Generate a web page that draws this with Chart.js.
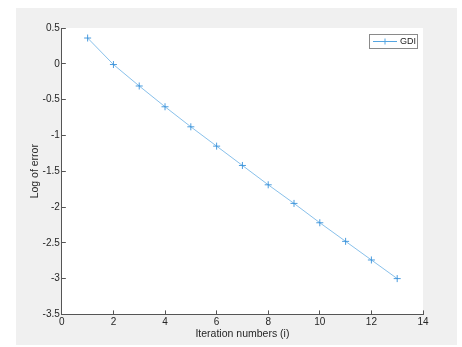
<!DOCTYPE html>
<html>
<head>
<meta charset="utf-8">
<script src="https://cdn.jsdelivr.net/npm/chart.js@4/dist/chart.umd.min.js"></script>
<style>
  html, body { margin: 0; padding: 0; background: #fff; }
  #wrap { width: 462px; height: 347px; position: relative; }
</style>
</head>
<body>
<div id="wrap"><canvas id="chart"></canvas></div>
<script>
const iterations = [1, 2, 3, 4, 5, 6, 7, 8, 9, 10, 11, 12, 13];
const logError = [0.36, -0.01, -0.31, -0.60, -0.88, -1.15, -1.42, -1.69, -1.95, -2.22, -2.48, -2.74, -3.00];
const seriesName = 'GDI';
const xTitle = 'Iteration numbers (i)';
const yTitle = 'Log of error';

const lineColor = 'rgb(85,165,225)';
const fontFamily = 'Helvetica, "Liberation Sans", Arial, sans-serif';

// matlab prints -1 not -1.0
const plainTick = v => String(+Number(v).toFixed(2));

// gray figure background + white axes area, like a matlab figure
const figureBg = {
  id: 'figureBg',
  beforeDraw(chart) {
    const ctx = chart.ctx;
    const a = chart.chartArea;
    ctx.save();
    ctx.fillStyle = '#f0f0f0';
    ctx.fillRect(16, 8, 441, 337);
    ctx.fillStyle = '#ffffff';
    ctx.fillRect(a.left, a.top, a.right - a.left, a.bottom - a.top);
    ctx.restore();
  }
};

// matlab-like legend box: line sample with marker, then the name
const boxLegend = {
  id: 'boxLegend',
  afterDraw(chart) {
    const ctx = chart.ctx;
    const a = chart.chartArea;
    const ds = chart.data.datasets[0];
    const w = 48, h = 14;
    const x = a.right - 6 - w, y = a.top + 6;
    ctx.save();
    ctx.fillStyle = '#fff';
    ctx.fillRect(x, y, w, h);
    ctx.strokeStyle = '#8a8a8a';
    ctx.lineWidth = 1;
    ctx.strokeRect(x + 0.5, y + 0.5, w, h);
    const my = y + h / 2 + 0.5;
    ctx.strokeStyle = ds.borderColor;
    ctx.beginPath();
    ctx.moveTo(x + 4, my);
    ctx.lineTo(x + 28, my);
    ctx.moveTo(x + 16, my - 3);
    ctx.lineTo(x + 16, my + 3);
    ctx.stroke();
    ctx.fillStyle = '#222';
    ctx.font = '9px ' + fontFamily;
    ctx.textBaseline = 'middle';
    ctx.fillText(ds.label, x + 31, my);
    ctx.restore();
  }
};

new Chart(document.getElementById('chart'), {
  type: 'line',
  data: {
    datasets: [{
      label: seriesName,
      data: iterations.map((x, i) => ({ x: x, y: logError[i] })),
      borderColor: lineColor,
      backgroundColor: lineColor,
      borderWidth: 0.7,
      pointStyle: 'cross',
      pointRadius: 3.5,
      pointBorderWidth: 0.9,
      pointBorderColor: 'rgb(55,145,218)',
      tension: 0
    }]
  },
  options: {
    responsive: true,
    maintainAspectRatio: false,
    animation: false,
    layout: { padding: { left: 20, right: 39, top: 28, bottom: 0 } },
    plugins: {
      legend: { display: false },
      tooltip: { enabled: false }
    },
    scales: {
      x: {
        type: 'linear',
        min: 0,
        max: 14,
        ticks: { stepSize: 2, color: '#262626', font: { size: 10, family: fontFamily }, padding: 6, callback: plainTick },
        grid: { drawOnChartArea: false, tickLength: -4, color: '#555' },
        border: { color: '#555', width: 1 },
        title: { display: true, text: xTitle, color: '#262626', font: { size: 10.5, family: fontFamily }, padding: { top: -7, bottom: 7 } }
      },
      y: {
        min: -3.5,
        max: 0.5,
        ticks: { stepSize: 0.5, color: '#262626', font: { size: 10, family: fontFamily }, padding: 6, callback: plainTick },
        grid: { drawOnChartArea: false, tickLength: -4, color: '#555' },
        border: { color: '#555', width: 1 },
        title: { display: true, text: yTitle, color: '#262626', font: { size: 10.5, family: fontFamily }, padding: { top: 9, bottom: -5 } }
      }
    }
  },
  plugins: [figureBg, boxLegend]
});
</script>
</body>
</html>
